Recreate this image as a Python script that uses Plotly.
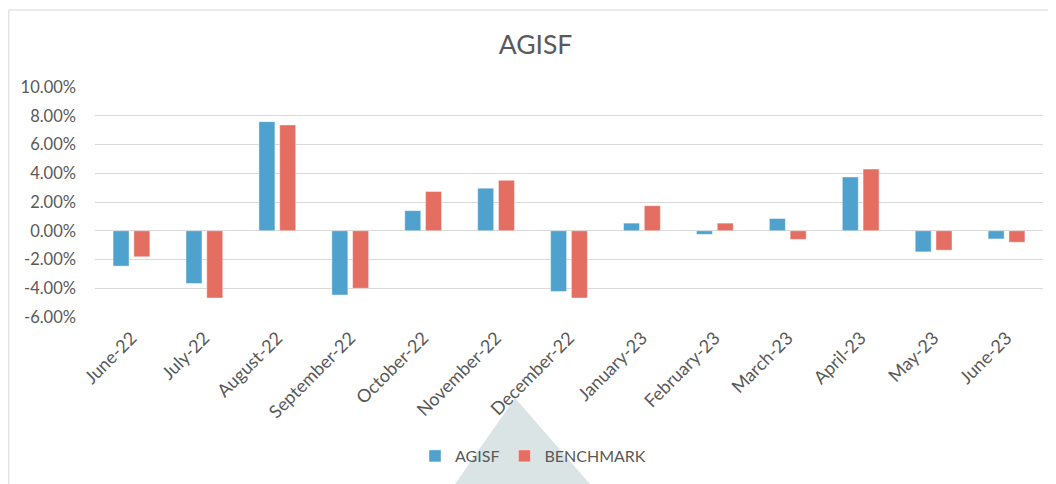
import numpy as np
import plotly.graph_objects as go

months = ["June-22", "July-22", "August-22", "September-22", "October-22", "November-22",
          "December-22", "January-23", "February-23", "March-23", "April-23", "May-23", "June-23"]
agisf = [-2.46, -3.67, 7.59, -4.47, 1.40, 2.96, -4.22, 0.53, -0.25, 0.85, 3.74, -1.47, -0.57]
benchmark = [-1.81, -4.68, 7.36, -4.00, 2.73, 3.51, -4.68, 1.74, 0.53, -0.60, 4.29, -1.35, -0.80]
y_ticks = [-6, -4, -2, 0, 2, 4, 6, 8, 10]
y_labels = [f"{v:.2f}%" for v in y_ticks]

# page body has an 8px margin, so the figure starts at (8, 8) in the window
OFF = 8
W, H = 1056 - OFF, 484 - OFF
ML, MR, MT, MB = 95 - OFF, 13, 87 - OFF, 167
PW, PH = W - ML - MR, H - MT - MB
GREY = "#595959"
GRID = "#D9D9D9"
FONT = "Lato"


def px_x(px):
    return (px - OFF - ML) / PW


def px_y(py):
    return (H - MB - (py - OFF)) / PH


fig = go.Figure()
fig.add_trace(go.Bar(name="AGISF", x=months, y=agisf,
                     marker=dict(color="#4FA2CD", line=dict(color="rgba(255,255,255,0.55)", width=0.8))))
fig.add_trace(go.Bar(name="BENCHMARK", x=months, y=benchmark,
                     marker=dict(color="#E46E61", line=dict(color="rgba(255,255,255,0.55)", width=0.8))))

n = len(months)
fig.update_layout(
    width=W, height=H,
    margin=dict(l=ML, r=MR, t=MT, b=MB, pad=0),
    paper_bgcolor="white", plot_bgcolor="white",
    font=dict(family=FONT, color=GREY),
    barmode="group", bargap=0.43, bargroupgap=0.23,
    title=dict(text="AGISF", font=dict(size=26.5, color=GREY, family=FONT),
               x=(535.5 - OFF) / W, xref="container", xanchor="center",
               y=1 - (45 - OFF) / H, yref="container", yanchor="middle"),
    xaxis=dict(type="category", range=[-0.5, n - 0.5], showgrid=False, showline=False,
               ticks="", tickangle=-45, ticklabelstandoff=6,
               tickfont=dict(size=18, color=GREY, family=FONT)),
    xaxis2=dict(overlaying="x", anchor="free", position=6 / 16, range=[-0.5, n - 0.5],
                tick0=-0.5, dtick=1, showticklabels=False, ticks="outside", ticklen=5,
                tickcolor=GRID, tickwidth=1.3, showline=True, linecolor=GRID, linewidth=1.5,
                showgrid=False, zeroline=False),
    yaxis=dict(range=[-6, 10], tickvals=y_ticks, ticktext=y_labels, showgrid=True,
               gridcolor=GRID, gridwidth=1.3, zeroline=False, showline=False,
               ticks="", ticklabelstandoff=18, tickfont=dict(size=16.5, color=GREY, family=FONT)),
    legend=dict(orientation="h", xref="container", yref="container",
                x=(533 - OFF) / W, xanchor="center", y=1 - (456 - OFF) / H, yanchor="middle",
                font=dict(size=16, color=GREY, family=FONT), itemwidth=30,
                traceorder="normal", bgcolor="rgba(0,0,0,0)"),
    showlegend=True,
    shapes=[
        dict(type="path", xref="paper", yref="paper", layer="below",
             path=f"M {px_x(515)} {px_y(398)} L {px_x(590)} {px_y(484)} L {px_x(455)} {px_y(484)} Z",
             fillcolor="#D6E1E1", line=dict(width=0), opacity=0.9),
        dict(type="line", xref="paper", yref="paper", x0=px_x(8.5), x1=px_x(1056), y0=px_y(10), y1=px_y(10),
             line=dict(color="#E3E3E3", width=1.5)),
        dict(type="line", xref="paper", yref="paper", x0=px_x(8.8), x1=px_x(8.8), y0=px_y(10), y1=px_y(484),
             line=dict(color="#E3E3E3", width=1.5)),
    ],
)

fig.write_html("out.html")
